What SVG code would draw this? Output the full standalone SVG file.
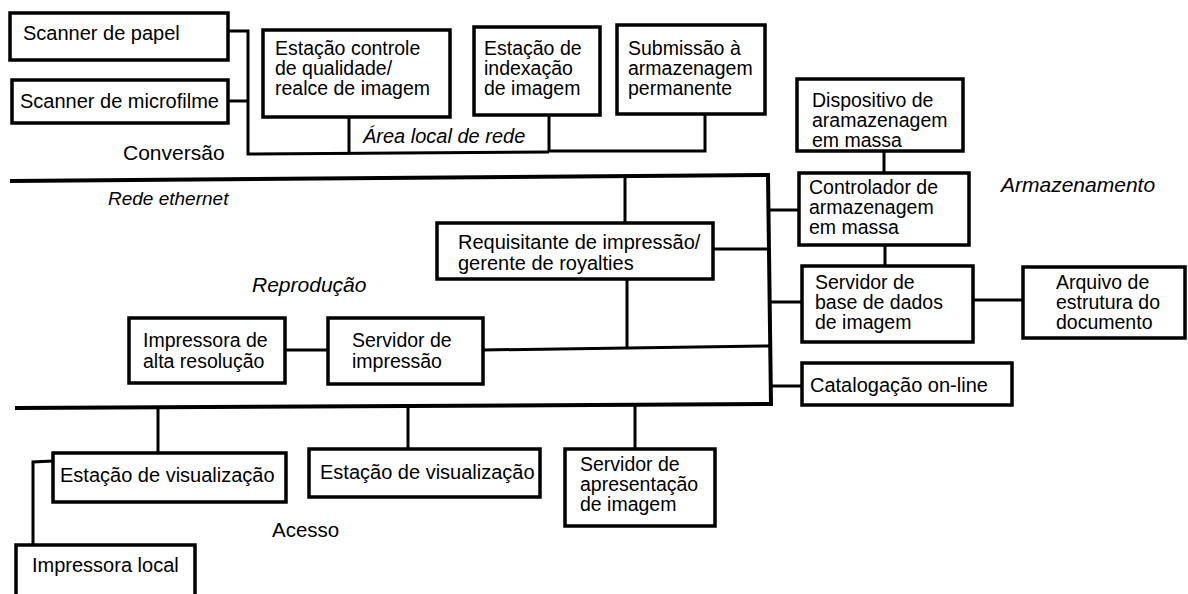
<svg xmlns="http://www.w3.org/2000/svg" width="1188" height="594" viewBox="0 0 1188 594">
<style>
.box{fill:#fff;stroke:#000;stroke-width:3.5}
.t{font-family:"Liberation Sans",Arial,sans-serif;font-size:19.5px;fill:#000}
.lbl{font-family:"Liberation Sans",Arial,sans-serif;font-size:21px;fill:#000}
.it{font-style:italic}
.ln{fill:none;stroke:#000;stroke-width:3;stroke-linejoin:miter}
.bus{fill:none;stroke:#000;stroke-width:4;stroke-linejoin:miter}
</style>
<rect width="1188" height="594" fill="#fff"/>
<g id="connectors">
<path class="ln" d="M228,31 H248 V154 L549,152"/>
<path class="ln" d="M228,101 H248"/>
<path class="ln" d="M349,117 V154"/>
<path class="ln" d="M549,115 V151 H705 V114"/>
<path class="ln" d="M884,151 V173"/>
<path class="ln" d="M885,245 V266"/>
<path class="ln" d="M973,300 H1023"/>
<path class="bus" d="M10,181 L768,175 L771,404 L15,408"/>
<path class="ln" d="M625,176 V223"/>
<path class="ln" d="M627,279 V347"/>
<path class="ln" d="M483,350 L770,346"/>
<path class="ln" d="M285,350 H328"/>
<path class="ln" d="M713,249 H769"/>
<path class="ln" d="M768,210 H799"/>
<path class="ln" d="M770,302 H802"/>
<path class="ln" d="M771,386 H802"/>
<path class="ln" d="M158,407 V453"/>
<path class="ln" d="M408,406 V449"/>
<path class="ln" d="M635,404 V449"/>
<path class="ln" d="M53,461 L33,462 V545"/>
</g>
<g id="labels">
<text class="lbl" x="123" y="160">Conversão</text>
<text class="lbl it" x="108" y="205" style="font-size:19px">Rede ethernet</text>
<text class="t it" x="363" y="143" style="font-size:20px">Área local de rede</text>
<text class="lbl it" x="1001" y="192">Armazenamento</text>
<text class="lbl it" x="252" y="292">Reprodução</text>
<text class="lbl" x="272" y="537" style="font-size:20.5px">Acesso</text>
</g>
<g id="scanner-papel">
<rect class="box" x="10" y="13" width="218" height="47"/>
<text class="t" x="23" y="40" style="font-size:20px">Scanner de papel</text>
</g>
<g id="scanner-microfilme">
<rect class="box" x="12" y="80" width="216" height="43"/>
<text class="t" x="20" y="108" style="font-size:20px">Scanner de microfilme</text>
</g>
<g id="estacao-controle">
<rect class="box" x="263" y="30" width="187" height="87"/>
<text class="t" x="275" y="55">Estação controle</text>
<text class="t" x="275" y="75">de qualidade/</text>
<text class="t" x="275" y="95">realce de imagem</text>
</g>
<g id="estacao-indexacao">
<rect class="box" x="474" y="27" width="126" height="88"/>
<text class="t" x="484" y="55">Estação de</text>
<text class="t" x="484" y="75">indexação</text>
<text class="t" x="484" y="95">de imagem</text>
</g>
<g id="submissao">
<rect class="box" x="617" y="25" width="148" height="89"/>
<text class="t" x="628" y="55">Submissão à</text>
<text class="t" x="628" y="75">armazenagem</text>
<text class="t" x="628" y="95">permanente</text>
</g>
<g id="dispositivo">
<rect class="box" x="797" y="79" width="166" height="72"/>
<text class="t" x="812" y="107">Dispositivo de</text>
<text class="t" x="812" y="127">aramazenagem</text>
<text class="t" x="812" y="147">em massa</text>
</g>
<g id="controlador">
<rect class="box" x="799" y="173" width="170" height="72"/>
<text class="t" x="809" y="194">Controlador de</text>
<text class="t" x="809" y="214">armazenagem</text>
<text class="t" x="809" y="234">em massa</text>
</g>
<g id="servidor-bd">
<rect class="box" x="802" y="266" width="171" height="76"/>
<text class="t" x="815" y="289">Servidor de</text>
<text class="t" x="815" y="309">base de dados</text>
<text class="t" x="815" y="329">de imagem</text>
</g>
<g id="arquivo">
<rect class="box" x="1023" y="267" width="162" height="71"/>
<text class="t" x="1056" y="289">Arquivo de</text>
<text class="t" x="1056" y="309">estrutura do</text>
<text class="t" x="1056" y="329">documento</text>
</g>
<g id="catalogacao">
<rect class="box" x="802" y="363" width="210" height="42"/>
<text class="t" x="810" y="392" style="font-size:20px">Catalogação on-line</text>
</g>
<g id="requisitante">
<rect class="box" x="437" y="223" width="276" height="56"/>
<text class="t" x="458" y="249" style="font-size:20px">Requisitante de impressão/</text>
<text class="t" x="458" y="270" style="font-size:20px">gerente de royalties</text>
</g>
<g id="servidor-impressao">
<rect class="box" x="328" y="318" width="155" height="66"/>
<text class="t" x="352" y="347">Servidor de</text>
<text class="t" x="352" y="368">impressão</text>
</g>
<g id="impressora-alta">
<rect class="box" x="129" y="318" width="156" height="65"/>
<text class="t" x="143" y="347">Impressora de</text>
<text class="t" x="143" y="368">alta resolução</text>
</g>
<g id="estacao-vis-1">
<rect class="box" x="53" y="453" width="233" height="49"/>
<text class="t" x="60" y="482" style="font-size:20px">Estação de visualização</text>
</g>
<g id="estacao-vis-2">
<rect class="box" x="309" y="449" width="231" height="48"/>
<text class="t" x="320" y="479" style="font-size:20px">Estação de visualização</text>
</g>
<g id="servidor-apresentacao">
<rect class="box" x="565" y="449" width="150" height="77"/>
<text class="t" x="580" y="471">Servidor de</text>
<text class="t" x="580" y="491">apresentação</text>
<text class="t" x="580" y="511">de imagem</text>
</g>
<g id="impressora-local">
<rect class="box" x="16" y="545" width="179" height="60"/>
<text class="t" x="32" y="572" style="font-size:20px">Impressora local</text>
</g>
</svg>
